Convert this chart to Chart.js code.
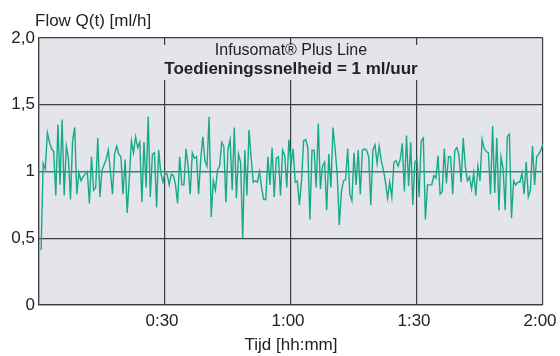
<!DOCTYPE html>
<html>
<head>
<meta charset="utf-8">
<script src="https://cdn.jsdelivr.net/npm/chart.js@4.4.0/dist/chart.umd.min.js"></script>
<style>
  html, body { margin: 0; padding: 0; background: #ffffff; }
  #wrap { width: 560px; height: 356px; }
</style>
</head>
<body>
<div id="wrap"><canvas id="flowChart" width="560" height="356"></canvas></div>
<script>
// flow readings every 30 s, first sample at 0:00:30
const flow = [
  0.41, 1.06, 1.02, 1.29, 1.22, 1.17, 1.15, 0.82, 1.35, 0.90,
  1.39, 0.82, 1.19, 1.10, 0.79, 1.23, 1.33, 0.83, 0.99, 0.93,
  0.96, 0.98, 1.00, 0.76, 1.11, 0.86, 0.88, 1.25, 0.81, 1.01,
  1.05, 1.09, 1.16, 1.00, 0.83, 1.13, 1.19, 1.13, 1.11, 0.83,
  1.09, 0.69, 0.95, 1.23, 1.14, 1.26, 1.18, 1.22, 0.77, 1.22,
  0.88, 1.41, 0.81, 1.13, 1.14, 0.73, 1.16, 0.99, 0.92, 0.99,

  0.98, 0.90, 0.98, 0.97, 0.90, 0.76, 1.11, 0.90, 0.90, 1.17,
  1.04, 0.83, 1.14, 1.10, 1.11, 0.83, 1.09, 1.26, 1.08, 1.04,
  1.41, 0.66, 0.93, 0.86, 1.01, 1.04, 1.22, 1.19, 0.77, 1.17,
  1.24, 0.86, 1.33, 0.80, 1.13, 1.07, 0.50, 1.16, 0.82, 1.31,
  1.11, 0.92, 0.93, 0.92, 1.00, 0.88, 0.79, 0.79, 1.11, 0.90,
  1.18, 0.81, 1.10, 1.11, 0.82, 1.16, 1.12, 0.88, 1.24, 1.05,

  1.17, 0.92, 0.93, 0.75, 0.93, 1.23, 1.24, 1.18, 0.64, 1.16,
  1.16, 0.88, 1.36, 0.87, 1.04, 1.07, 0.71, 1.13, 0.88, 1.33,
  1.17, 0.98, 0.60, 0.85, 0.93, 0.94, 1.17, 0.83, 0.78, 1.14,
  0.90, 1.16, 0.83, 1.16, 1.17, 1.16, 1.11, 0.75, 1.16, 1.20,
  1.06, 1.19, 1.08, 1.01, 0.92, 0.80, 0.92, 0.81, 1.07, 1.08,
  1.04, 1.09, 1.21, 0.85, 1.27, 0.89, 1.22, 0.75, 1.07, 1.09,

  0.81, 1.23, 1.25, 0.64, 0.90, 0.90, 0.90, 0.97, 0.95, 1.12,
  0.83, 0.85, 1.17, 0.91, 1.11, 1.11, 0.83, 1.16, 1.18, 1.12,
  0.92, 1.25, 1.04, 0.93, 0.96, 0.87, 0.99, 0.82, 1.04, 0.93,
  1.24, 1.17, 1.15, 1.14, 0.83, 1.34, 0.84, 1.25, 0.71, 1.11,
  1.02, 0.71, 1.26, 1.28, 0.65, 0.93, 0.90, 0.92, 0.92, 0.99,
  0.83, 1.07, 0.81, 0.86, 1.19, 0.90, 1.11, 1.13, 1.16, 1.21
];
const sampleStep = 0.5; // minutes
const minutes = flow.map((v, i) => (i + 1) * sampleStep);

const xTickValues = [0, 30, 60, 90, 120];
const xTickLabels = ["", "0:30", "1:00", "1:30", "2:00"];
const yTickValues = [0, 0.5, 1, 1.5, 2];
const yTickLabels = ["0", "0,5", "1", "1,5", "2,0"];
const setRate = 1;

const yTitle = "Flow Q(t) [ml/h]";
const xTitle = "Tijd [hh:mm]";
const boxLine1 = "Infusomat\u00AE Plus Line";
const boxLine2 = "Toedieningssnelheid = 1 ml/uur";

const FONT = "'Liberation Sans', Arial, sans-serif";
const PLOT_BG = "#e4e5ea";
const GRID = "#3e3e3e";
const TEAL = "#17a98a";
const TEAL_DARK = "#2a8c74";

const plotBackground = {
    id: "plotBackground",
    beforeDraw(chart) {
        const {ctx, chartArea} = chart;
        ctx.save();
        ctx.fillStyle = PLOT_BG;
        ctx.fillRect(chartArea.left, chartArea.top,
            chartArea.right - chartArea.left, chartArea.bottom - chartArea.top);
        ctx.restore();
    }
};

const labels = {
    id: "labels",
    beforeDatasetsDraw(chart) {
        const {ctx, chartArea} = chart;
        const cx = (chartArea.left + chartArea.right) / 2;
        ctx.save();

        // title box over the grid
        ctx.font = "bold 17px " + FONT;
        const w = ctx.measureText(boxLine2).width + 8;
        ctx.fillStyle = PLOT_BG;
        ctx.fillRect(cx - w / 2, chartArea.top + 7, w, 35);

        ctx.fillStyle = "#222";
        ctx.textAlign = "center";
        ctx.textBaseline = "middle";
        ctx.font = "16px " + FONT;
        ctx.fillText(boxLine1, cx, chartArea.top + 13);
        ctx.font = "bold 17px " + FONT;
        ctx.fillText(boxLine2, cx, chartArea.top + 31);

        // y axis title, top left
        ctx.font = "17px " + FONT;
        ctx.textAlign = "left";
        ctx.fillText(yTitle, 35, 21);
        ctx.restore();
    }
};

new Chart(document.getElementById("flowChart"), {
    type: "line",
    data: {
        datasets: [{
            data: minutes.map((m, i) => ({x: m, y: flow[i]})),
            borderColor: TEAL,
            borderWidth: 1.4,
            pointRadius: 0,
            tension: 0,
            fill: false
        }]
    },
    options: {
        responsive: false,
        animation: false,
        events: [],
        layout: {
            padding: {top: 38, right: 17, left: 0, bottom: 0}
        },
        plugins: {
            legend: {display: false},
            tooltip: {enabled: false}
        },
        scales: {
            x: {
                type: "linear",
                min: 0,
                max: 120,
                afterBuildTicks(scale) {
                    scale.ticks = xTickValues.map(v => ({value: v}));
                },
                afterFit(scale) {
                    scale.height = 51;
                    scale.paddingLeft = 0;
                    scale.paddingRight = 0;
                },
                ticks: {
                    padding: 6,
                    labelOffset: -3,
                    color: "#222",
                    font: {family: FONT, size: 17},
                    callback: (v) => xTickLabels[xTickValues.indexOf(v)]
                },
                grid: {
                    color: GRID,
                    lineWidth: 1.2,
                    drawTicks: false
                },
                border: {color: GRID, width: 1.2},
                title: {
                    display: true,
                    text: xTitle,
                    color: "#222",
                    font: {family: FONT, size: 17},
                    padding: {top: 0, bottom: 0}
                }
            },
            y: {
                min: 0,
                max: 2,
                afterBuildTicks(scale) {
                    scale.ticks = yTickValues.map(v => ({value: v}));
                },
                afterFit(scale) {
                    scale.width = 39;
                    scale.paddingTop = 0;
                    scale.paddingBottom = 0;
                },
                ticks: {
                    padding: 4,
                    color: "#222",
                    font: {family: FONT, size: 17},
                    callback: (v) => yTickLabels[yTickValues.indexOf(v)]
                },
                grid: {
                    color: (c) => c.tick && c.tick.value === setRate ? TEAL_DARK : GRID,
                    lineWidth: (c) => c.tick && c.tick.value === setRate ? 1.6 : 1.2,
                    drawTicks: false
                },
                border: {color: GRID, width: 1.2}
            }
        }
    },
    plugins: [plotBackground, labels]
});
</script>
</body>
</html>
